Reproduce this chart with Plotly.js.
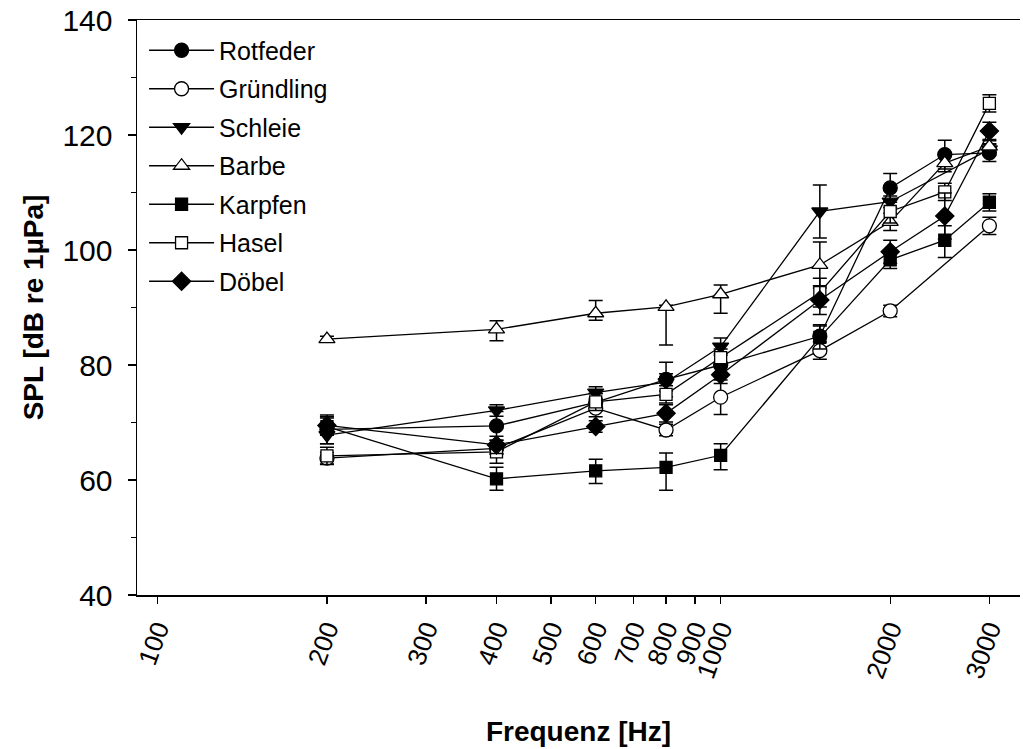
<!DOCTYPE html>
<html>
<head>
<meta charset="utf-8">
<script src="https://cdn.plot.ly/plotly-3.0.1.min.js"></script>
<style>html,body{margin:0;padding:0;background:#fff;}#chart{width:1023px;height:749px;}</style>
</head>
<body>
<div id="chart"></div>
<script>
const freq = [200, 400, 600, 800, 1000, 1500, 2000, 2500, 3000];
const tickVals = [100, 200, 300, 400, 500, 600, 700, 800, 900, 1000, 2000, 3000];
const tickText = ["100", "200", "300", "400", "500", "600", "700", "800", "900", "1000", "2000", "3000"];

const rotfeder      = [68.8, 69.4, 73.5, 77.5, 80.0, 85.0, 110.8, 116.6, 116.9];
const rotfederErr   = [2.5, 2.5, 1.5, 3.0, 2.0, 2.0, 2.5, 2.5, 1.5];
const gruendling    = [63.8, 65.5, 72.5, 68.7, 74.4, 82.5, 89.4, null, 104.2];
const gruendlingErr = [1.0, 1.0, 1.5, 1.0, 3.0, 1.5, 1.0, 0, 1.5];
const schleie       = [67.8, 72.1, 75.2, 77.0, 83.2, 106.7, 108.4, null, 117.5];
const schleieErr    = [1.5, 1.0, 1.0, 1.5, 1.5, 4.6, 1.0, 0, 1.0];
const barbe         = [84.5, 86.2, 89.0, 90.1, 92.3, 97.4, 104.9, 115.1, 118.0];
const barbeErrUp    = [0.5, 1.5, 2.2, 0.3, 1.6, 4.0, 1.5, 1.5, 1.0];
const barbeErrDown  = [0.5, 2.0, 1.2, 6.6, 3.3, 4.0, 1.5, 1.5, 1.0];
const karpfen       = [69.3, 60.2, 61.6, 62.2, 64.3, 84.8, 98.3, 101.7, 108.3];
const karpfenErrUp  = [1.5, 2.0, 2.0, 2.5, 2.0, 2.0, 1.5, 2.5, 1.5];
const karpfenErrDown= [1.5, 2.0, 2.2, 4.0, 2.5, 2.0, 1.5, 3.0, 1.5];
const hasel         = [64.2, 64.9, 73.6, 74.9, 81.3, 92.6, 106.7, 110.1, 125.5];
const haselErr      = [1.5, 2.0, 1.5, 1.5, 1.5, 2.5, 2.0, 1.5, 1.5];
const doebel        = [69.5, 66.1, 69.3, 71.6, 78.3, 91.3, 99.7, 105.9, 120.7];
const doebelErr     = [1.5, 1.5, 1.0, 1.5, 1.5, 2.5, 2.0, 4.0, 1.5];

function series(name, y, errUp, errDown, symbol, fill, size) {
  return {
    type: 'scatter', mode: 'lines+markers', name: name, legendgroup: name,
    x: freq, y: y, connectgaps: true,
    line: {color: '#000', width: 1.3},
    marker: {symbol: symbol, size: size, color: fill, line: {color: '#000', width: 1.3}},
    error_y: {type: 'data', symmetric: false, array: errUp, arrayminus: errDown,
              color: '#000', thickness: 1.5, width: 7}
  };
}

const data = [
  series('Rotfeder', rotfeder, rotfederErr, rotfederErr, 'circle', '#000', 14),
  series('Gründling', gruendling, gruendlingErr, gruendlingErr, 'circle', '#fff', 14),
  series('Schleie', schleie, schleieErr, schleieErr, 'triangle-down', '#000', 14),
  series('Barbe', barbe, barbeErrUp, barbeErrDown, 'triangle-up', '#fff', 14),
  series('Karpfen', karpfen, karpfenErrUp, karpfenErrDown, 'square', '#000', 12),
  series('Hasel', hasel, haselErr, haselErr, 'square', '#fff', 12),
  series('Döbel', doebel, doebelErr, doebelErr, 'diamond', '#000', 14)
];

const font = {family: 'Liberation Sans, Arial, sans-serif', color: '#000'};

const layout = {
  width: 1023, height: 749,
  margin: {l: 137, r: 3, t: 20, b: 154},
  paper_bgcolor: '#fff', plot_bgcolor: '#fff',
  font: Object.assign({size: 20}, font),
  showlegend: true,
  legend: {
    x: 0.008, y: 0.987, xanchor: 'left', yanchor: 'top',
    bgcolor: 'rgba(0,0,0,0)', traceorder: 'grouped', tracegroupgap: 3,
    itemwidth: 65,
    font: Object.assign({size: 25}, font)
  },
  xaxis: {
    type: 'log', range: [Math.log10(92), Math.log10(3400)],
    tickmode: 'array', tickvals: tickVals, ticktext: tickText,
    tickangle: -70, ticks: 'outside', ticklen: 7, tickwidth: 1.3, tickcolor: '#000',
    showline: true, linecolor: '#000', linewidth: 1.5, mirror: true,
    showgrid: false, zeroline: false,
    tickfont: Object.assign({size: 26}, font),
    title: {text: '<b>Frequenz [Hz]</b>', font: Object.assign({size: 28}, font), standoff: 40}
  },
  yaxis: {
    range: [40, 140], dtick: 20, tick0: 40,
    ticks: 'outside', ticklen: 8, tickwidth: 1.3, tickcolor: '#000',
    ticklabelstandoff: 9,
    minor: {dtick: 10, ticks: 'outside', ticklen: 5, tickwidth: 1.3, tickcolor: '#000'},
    showline: true, linecolor: '#000', linewidth: 1.5,
    showgrid: false, zeroline: false,
    tickfont: Object.assign({size: 30}, font),
    title: {text: '<b>SPL [dB re 1µPa]</b>', font: Object.assign({size: 28}, font), standoff: 10}
  }
};

Plotly.newPlot('chart', data, layout, {displayModeBar: false, staticPlot: true});
</script>
</body>
</html>
